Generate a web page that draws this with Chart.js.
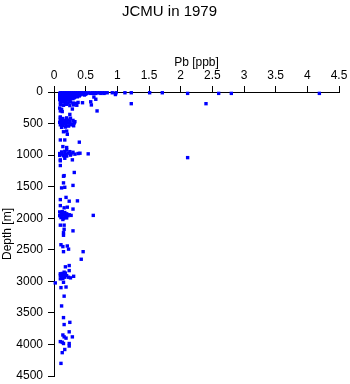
<!DOCTYPE html>
<html>
<head>
<meta charset="utf-8">
<script src="https://cdn.jsdelivr.net/npm/chart.js@4/dist/chart.umd.min.js"></script>
<style>
html,body{margin:0;padding:0;background:#fff;}
#wrap{width:350px;height:384px;}
</style>
</head>
<body>
<div id="wrap"><canvas id="c" width="350" height="384"></canvas></div>
<script>
const chartTitle = 'JCMU in 1979';
const xTitle = 'Pb [ppb]';
const yTitle = 'Depth [m]';
const xTickLabels = ['0','0.5','1','1.5','2','2.5','3','3.5','4','4.5'];
const yTickLabels = ['0','500','1000','1500','2000','2500','3000','3500','4000','4500'];

// Pb [ppb] values
const pb = [
  // surface block
  0.1,0.13,0.16,0.19,0.22,0.25,0.28,0.31,0.34,0.37,0.4,0.43,0.46,0.5,0.55,0.6,0.64,0.68,0.72,0.76,0.8,0.84,0.92,0.98,1.12,1.22,1.51,1.71,
  0.1,0.14,0.18,0.22,0.26,0.3,0.34,0.38,0.42,0.46,0.52,0.58,0.62,0.66,0.74,0.79,2.11,2.6,2.8,4.19,
  0.09,0.12,0.15,0.18,0.21,0.24,0.27,0.3,0.33,0.36,0.4,0.44,0.5,0.97,
  0.1,0.13,0.16,0.2,0.24,0.28,0.32,0.36,0.41,0.48,
  0.09,0.12,0.15,0.18,0.22,0.26,0.3,0.35,0.4,
  0.1,0.13,0.17,0.21,0.25,0.29,0.33,0.37,0.63,
  0.09,0.12,0.16,0.2,0.24,0.28,0.32,
  0.1,0.14,0.18,0.22,0.26,0.3,0.66,
  0.09,0.13,0.17,0.21,0.25,
  // 150-400 m
  0.1,0.14,0.18,0.22,0.26,0.3,0.34,0.38,0.45,0.58,0.59,1.22,2.4,0.1,0.15,0.2,0.25,0.31,0.36,
  0.09,0.12,0.1,0.13,0.29,0.68,0.25,0.1,
  // 400-560 m
  0.1,0.14,0.2,0.26,0.1,0.13,0.17,0.21,0.25,0.3,0.33,0.09,0.12,0.16,0.2,0.24,0.28,0.32,0.1,0.14,0.19,0.23,0.27,0.31,0.12,0.18,
  // 600-1330 m
  0.15,0.2,0.21,0.4,0.1,0.17,0.14,0.2,0.2,0.12,0.17,0.25,0.3,0.09,0.13,0.18,0.22,0.27,0.33,0.38,0.41,0.09,0.15,0.2,0.26,0.54,2.11,0.1,0.17,0.29,0.1,0.16,0.32,0.1,
  // 1330-2300 m
  0.15,0.15,0.3,0.12,0.17,0.19,0.1,0.24,0.37,0.1,0.16,0.21,0.3,
  0.09,0.13,0.17,0.11,0.15,0.2,0.24,0.09,0.13,0.18,0.22,0.27,0.11,0.15,0.2,0.14,0.62,
  0.1,0.16,0.16,0.3,0.15,0.15,
  // 2400-4300 m
  0.11,0.14,0.21,0.23,0.15,0.46,0.43,0.18,0.24,0.24,0.16,0.1,0.13,0.18,0.1,0.15,0.2,0.31,0.12,0.17,0.23,0.26,0.1,0.14,0.02,0.15,0.11,0.19,
  0.16,0.12,0.15,0.16,0.25,0.24,0.14,0.16,0.19,0.29,0.1,0.13,0.15,0.24,0.24,0.17,0.13,0.11
];

// Depth [m] values (same order as pb)
const depth = [
  12,12,12,12,12,12,12,12,12,12,12,12,12,12,12,12,12,12,12,12,12,12,12,12,12,12,12,12,
  22,22,22,22,22,22,22,22,22,22,22,22,22,22,22,22,22,22,22,22,
  35,35,35,35,35,35,35,35,35,35,35,35,35,40,
  48,48,48,48,48,48,48,48,48,48,
  62,62,62,62,62,62,62,62,62,
  76,76,76,76,76,76,76,76,80,
  90,90,90,90,90,90,90,
  105,105,105,105,105,105,115,
  120,120,120,120,120,
  155,160,165,170,160,175,180,165,170,155,205,185,185,200,210,195,215,205,210,
  255,275,300,310,270,300,355,395,
  410,420,410,415,440,455,450,445,460,450,470,480,490,500,485,495,505,490,520,530,525,540,520,535,560,555,
  630,620,670,795,760,760,865,880,920,950,940,945,955,975,985,990,970,980,985,975,970,1005,1010,1015,1000,980,1040,1075,1050,1075,1165,1325,1275,1090,
  1335,1440,1480,1520,1510,1670,1705,1730,1725,1800,1835,1825,1855,
  1900,1895,1910,1930,1940,1930,1945,1960,1965,1975,1960,1955,1990,2000,1995,2020,1955,
  2110,2110,2175,2200,2230,2270,
  2420,2450,2440,2490,2530,2530,2650,2770,2750,2830,2855,2880,2875,2870,2905,2900,2910,2920,2940,2935,2935,2945,2960,2955,3025,3015,3100,3090,
  3235,3390,3575,3685,3650,3800,3850,3880,3900,3880,3955,3965,3985,3985,4025,4080,4130,4300
];

const points = pb.map((v, i) => ({x: v, y: depth[i]}));

Chart.defaults.font.family = "'Liberation Sans', Arial, sans-serif";
Chart.defaults.font.size = 12;
Chart.defaults.color = '#000';

new Chart(document.getElementById('c'), {
  type: 'scatter',
  data: {
    datasets: [{
      data: points,
      pointStyle: 'rect',
      pointRadius: 2.4,
      pointHoverRadius: 2.4,
      borderWidth: 0,
      backgroundColor: '#0000ff',
      borderColor: '#0000ff',
      clip: false
    }]
  },
  options: {
    responsive: false,
    animation: false,
    events: [],
    layout: { padding: { top: 0, left: 0, right: 11, bottom: 8 } },
    plugins: {
      legend: { display: false },
      tooltip: { enabled: false },
      title: {
        display: true,
        text: chartTitle,
        color: '#000',
        font: { size: 15, weight: 'normal' },
        padding: { top: 3, bottom: 10 }
      }
    },
    scales: {
      x: {
        type: 'linear',
        position: 'top',
        min: 0, max: 4.5,
        afterFit: (s) => { s.height = 61; s.paddingLeft = 0; s.paddingRight = 0; },
        ticks: {
          stepSize: 0.5,
          padding: 3,
          maxRotation: 0,
          autoSkip: false,
          callback: (v) => xTickLabels[Math.round(v / 0.5)]
        },
        grid: { display: true, drawOnChartArea: false, drawTicks: true, tickLength: 6, tickColor: '#000', color: '#000' },
        border: { display: true, color: '#000', width: 1 },
        title: { display: true, text: xTitle, color: '#000', font: { size: 12 }, padding: { top: 24, bottom: 0 } }
      },
      y: {
        type: 'linear',
        position: 'left',
        reverse: true,
        min: 0, max: 4500,
        afterFit: (s) => { s.width = 54; s.paddingTop = 0; s.paddingBottom = 0; },
        ticks: {
          stepSize: 500,
          padding: 5,
          autoSkip: false,
          callback: (v) => yTickLabels[Math.round(v / 500)]
        },
        grid: { display: true, drawOnChartArea: false, drawTicks: true, tickLength: 6, tickColor: '#000', color: '#000' },
        border: { display: true, color: '#000', width: 1 },
        title: { display: true, text: yTitle, color: '#000', font: { size: 12 }, padding: { top: 0, bottom: 0 } }
      }
    }
  }
});
</script>
</body>
</html>
